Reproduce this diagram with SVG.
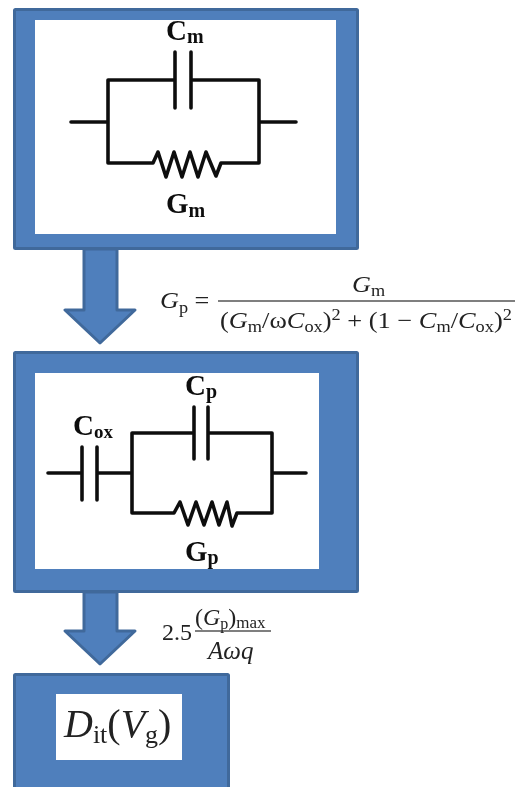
<svg xmlns="http://www.w3.org/2000/svg" width="518" height="787" viewBox="0 0 518 787">
<style>
.box{fill:#4f7fbc;stroke:#41699b;stroke-width:3;stroke-linejoin:round}
.inner{fill:#fff}
.wire{fill:none;stroke:#111;stroke-width:3.6;stroke-linejoin:round;stroke-linecap:round}
.lab{font-family:"Liberation Serif",serif;font-weight:bold;fill:#111;font-size:29px}
.sub{font-size:20px}
.eq{font-family:"Liberation Serif",serif;fill:#222;font-size:23px}
.i{font-style:italic}
.s{font-size:16px}
.rule{stroke:#555;stroke-width:1.6}
</style>
<defs><filter id="soft" x="-5%" y="-5%" width="110%" height="110%"><feGaussianBlur stdDeviation="0.5"/></filter></defs>
<rect width="518" height="787" fill="#fff"/>
<g filter="url(#soft)">
<g id="connectors">
<path class="box" d="M84 249H117V310H135L100 343L65 310H84Z"/>
<path class="box" d="M84 592H117V631H135L100 664L65 631H84Z"/>
</g>
<g id="node-parallel-m">
<rect class="box" x="14.500" y="9.500" width="343" height="239" rx="1"/>
<rect class="inner" x="35" y="20" width="301" height="214"/>
<path class="wire" d="M71 122H108M108 122V80H174M175 52V108M191 52V108M191 80H259V122M259 122H296M259 122V163H221L216 176L206 152L198 177L190 152L182 177L174 152L166 177L158 152L153 163H108V122"/>
<text class="lab" x="166" y="40">C<tspan class="sub" dy="3">m</tspan></text>
<text class="lab" x="166" y="213">G<tspan class="sub" dy="4">m</tspan></text>
</g>
<g id="eq-gp">
<text class="eq" transform="translate(160 308) scale(1.14 1)"><tspan class="i">G</tspan><tspan class="s" dy="5">p</tspan><tspan dy="-5"> =</tspan></text>
<line class="rule" x1="218" y1="301" x2="515" y2="301"/>
<text class="eq" transform="translate(352 292) scale(1.14 1)"><tspan class="i">G</tspan><tspan class="s" dy="4">m</tspan></text>
<text class="eq" transform="translate(220 328) scale(1.147 1)">(<tspan class="i">G</tspan><tspan class="s" dy="4">m</tspan><tspan dy="-4">/ω</tspan><tspan class="i">C</tspan><tspan class="s" dy="4">ox</tspan><tspan dy="-4">)</tspan><tspan class="s" dy="-8">2</tspan><tspan dy="8"> + (1 − </tspan><tspan class="i">C</tspan><tspan class="s" dy="4">m</tspan><tspan dy="-4">/</tspan><tspan class="i">C</tspan><tspan class="s" dy="4">ox</tspan><tspan dy="-4">)</tspan><tspan class="s" dy="-8">2</tspan></text>
</g>
<g id="node-series-p">
<rect class="box" x="14.500" y="352.500" width="343" height="239" rx="1"/>
<rect class="inner" x="35" y="373" width="284" height="196"/>
<path class="wire" d="M48 473H82M82 447V500M97 447V500M97 473H132M132 473V433H194M194 407V459M208 407V459M208 433H272V473M272 473H306M272 473V513H237L232 526L227 502L219 525L212 502L204 525L196 502L188 525L180 502L174 513H132V473"/>
<text class="lab" x="185" y="395">C<tspan class="sub" dy="3">p</tspan></text>
<text class="lab" x="73" y="435">C<tspan class="sub" dy="3" style="font-size:19px">ox</tspan></text>
<text class="lab" x="185" y="561">G<tspan class="sub" dy="3">p</tspan></text>
</g>
<g id="eq-dit">
<text class="eq" x="162" y="640" style="font-size:24px">2.5</text>
<line class="rule" x1="195" y1="631" x2="271" y2="631"/>
<text class="eq" x="195" y="625" style="font-size:24px">(<tspan class="i">G</tspan><tspan class="s" dy="4">p</tspan><tspan dy="-4">)</tspan><tspan class="s" dy="3" style="font-size:17px">max</tspan></text>
<text class="eq i" x="208" y="659" style="font-size:25px">Aωq</text>
</g>
<g id="node-dit">
<rect class="box" x="14.500" y="674.500" width="214" height="120" rx="1"/>
<rect class="inner" x="56" y="694" width="126" height="66"/>
<text class="eq" x="64" y="737" style="font-size:40px"><tspan class="i">D</tspan><tspan style="font-size:26px" dy="6">it</tspan><tspan dy="-6">(</tspan><tspan class="i">V</tspan><tspan style="font-size:26px" dy="6">g</tspan><tspan dy="-6">)</tspan></text>
</g>
</g>
</svg>
